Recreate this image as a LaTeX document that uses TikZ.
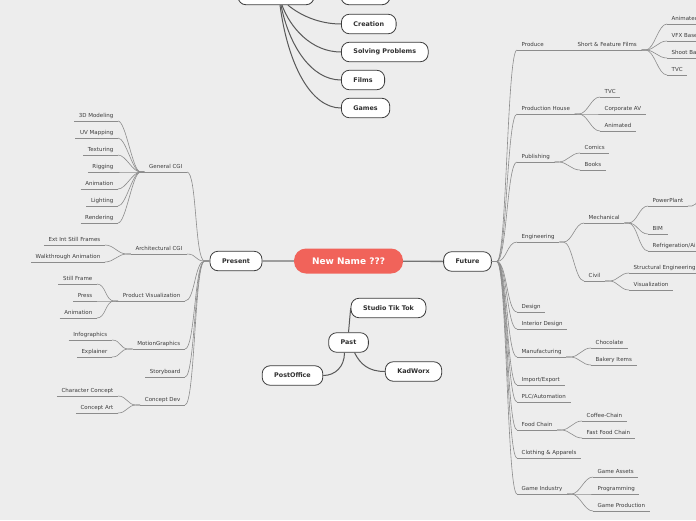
\documentclass[tikz,border=0pt]{standalone}
\usepackage{fontspec}
\setmainfont{DejaVu Sans}
\usetikzlibrary{positioning}
\definecolor{canvas}{RGB}{237,237,237}
\definecolor{coral}{RGB}{241,99,90}
\definecolor{rim}{RGB}{60,60,60}
\definecolor{twig}{RGB}{140,140,140}
\definecolor{ink}{RGB}{60,60,60}
\tikzset{
  leaf/.style={font=\fontsize{5.5}{6.5}\selectfont, text=ink, inner xsep=4.5pt, inner ysep=2pt,
    text height=4.1pt, text depth=1.1pt,
    append after command={(\tikzlastnode.south west) edge[twig] (\tikzlastnode.south east)}},
  main/.style={draw=rim, line width=0.8pt, fill=white, rounded corners=8pt, text=ink!80!black,
    font=\bfseries\fontsize{6.4}{7.4}\selectfont, minimum height=19.5pt, inner xsep=12pt},
  root/.style={fill=coral, rounded corners=12pt, text=white, font=\bfseries\fontsize{9}{10}\selectfont,
    minimum width=109pt, minimum height=25pt},
  twig/.style={draw=twig, line width=0.6pt},
  trunk/.style={draw=black!65, line width=1pt},
  fan/.style={to path={.. controls +(#1,0) and +(-#1,0) .. (\tikztotarget)}},
  fan/.default=9,
}
\begin{document}
\begin{tikzpicture}[x=1pt,y=-1pt]
\useasboundingbox (0,0) rectangle (696,520);
\fill[canvas] (0,0) rectangle (696,520);
\clip (0,0) rectangle (696,520);

\node[root] (root) at (348.5,261) {New Name ???};
\node[main] (present) at (236,261) {Present};
\node[main] (future) at (467.5,261.5) {Future};
\node[main] (past) at (348.5,342.5) {Past};
\node[main] (studio) at (388.5,308) {Studio Tik Tok};
\node[main] (post) at (292.5,375.5) {PostOffice};
\node[main] (kad) at (413.5,371.5) {KadWorx};
\draw[draw=black!55, line width=1.3pt] (present) -- (root) -- (future);
\draw[trunk] (past.north) -- (studio.west);
\draw[trunk] ([xshift=-4pt]past.south) .. controls +(0,14) and +(12,0) .. (post.east);
\draw[trunk] ([xshift=6pt]past.south) .. controls +(6,12) and +(-16,0) .. (kad.west);

% top branch
\node[main, minimum width=76pt] (topl) at (276,-5) {};
\node[main, minimum width=49pt] (topr) at (365.5,-5) {};
\node[main, anchor=west] (creation) at (341,24) {Creation};
\node[main, anchor=west] (solving) at (341,52) {Solving Problems};
\node[main, anchor=west] (films) at (341,80) {Films};
\node[main, anchor=west] (games) at (341,108) {Games};
\draw[trunk] ([xshift=12pt]topl.south) .. controls +(12,10) and +(-22,0) .. (creation.west);
\draw[trunk] ([xshift=6pt]topl.south) .. controls +(8,22) and +(-30,0) .. (solving.west);
\draw[trunk] ([xshift=5pt]topl.south) .. controls +(8,40) and +(-30,0) .. (films.west);
\draw[trunk] ([xshift=4pt]topl.south) .. controls +(8,60) and +(-30,0) .. (games.west);

% present side
\node[leaf, anchor=south east] (gencgi) at (187,172) {General CGI};
\node[leaf, anchor=south east] (model) at (118,121) {3D Modeling};
\node[leaf, anchor=south east] (uvmap) at (118,138) {UV Mapping};
\node[leaf, anchor=south east] (textr) at (118,155) {Texturing};
\node[leaf, anchor=south east] (rig) at (118,172) {Rigging};
\node[leaf, anchor=south east] (anim) at (118,189) {Animation};
\node[leaf, anchor=south east] (light) at (118,206) {Lighting};
\node[leaf, anchor=south east] (render) at (118,223) {Rendering};
\node[leaf, anchor=south east] (archcgi) at (187,254) {Architectural CGI};
\node[leaf, anchor=south east] (extint) at (105,245) {Ext Int Still Frames};
\node[leaf, anchor=south east] (walk) at (105,262) {Walkthrough Animation};
\node[leaf, anchor=south east] (prodvis) at (185,301) {Product Visualization};
\node[leaf, anchor=south east] (still) at (97,284) {Still Frame};
\node[leaf, anchor=south east] (press) at (97,301) {Press};
\node[leaf, anchor=south east] (panim) at (97,318) {Animation};
\node[leaf, anchor=south east] (motion) at (185,349) {MotionGraphics};
\node[leaf, anchor=south east] (infog) at (112,340) {Infographics};
\node[leaf, anchor=south east] (explain) at (112,357) {Explainer};
\node[leaf, anchor=south east] (story) at (185,377) {Storyboard};
\node[leaf, anchor=south east] (concept) at (185,405) {Concept Dev};
\node[leaf, anchor=south east] (charc) at (118,396) {Character Concept};
\node[leaf, anchor=south east] (cart) at (118,413) {Concept Art};

\foreach \c in {gencgi,archcgi,prodvis,motion,story,concept}
  \draw[twig] (\c.south east) to[fan=10] ([xshift=-5pt]present.west) -- (present.west);
\foreach \c in {model,uvmap,textr,rig,anim,light,render}
  \draw[twig] (\c.south east) to[fan=8] ([xshift=-4pt]gencgi.south west) -- (gencgi.south west);
\foreach \c in {extint,walk}
  \draw[twig] (\c.south east) to[fan] ([xshift=-4pt]archcgi.south west) -- (archcgi.south west);
\foreach \c in {still,press,panim}
  \draw[twig] (\c.south east) to[fan] ([xshift=-4pt]prodvis.south west) -- (prodvis.south west);
\foreach \c in {infog,explain}
  \draw[twig] (\c.south east) to[fan] ([xshift=-4pt]motion.south west) -- (motion.south west);
\foreach \c in {charc,cart}
  \draw[twig] (\c.south east) to[fan] ([xshift=-4pt]concept.south west) -- (concept.south west);

% future side
\node[leaf, anchor=south west] (produce) at (517,50) {Produce};
\node[leaf, anchor=south west] (sff) at (573,50) {Short \& Feature Films};
\node[leaf, anchor=south west] (animf) at (667,24) {Animated};
\node[leaf, anchor=south west] (vfx) at (667,41) {VFX Based};
\node[leaf, anchor=south west] (shoot) at (667,58) {Shoot Based};
\node[leaf, anchor=south west] (tvcf) at (667,75) {TVC};
\node[leaf, anchor=south west] (prodhouse) at (517,114) {Production House};
\node[leaf, anchor=south west] (tvc) at (600,97) {TVC};
\node[leaf, anchor=south west] (corpav) at (600,114) {Corporate AV};
\node[leaf, anchor=south west] (animd) at (600,131) {Animated};
\node[leaf, anchor=south west] (publish) at (517,162) {Publishing};
\node[leaf, anchor=south west] (comics) at (580,153) {Comics};
\node[leaf, anchor=south west] (books) at (580,170) {Books};
\node[leaf, anchor=south west] (engg) at (517,242) {Engineering};
\node[leaf, anchor=south west] (mech) at (584,223) {Mechanical};
\node[leaf, anchor=south west] (power) at (648,206) {PowerPlant};
\node[leaf, anchor=south west] (bim) at (648,234) {BIM};
\node[leaf, anchor=south west] (refrig) at (648,251) {Refrigeration/Air Conditioning};
\node[leaf, anchor=south west] (civil) at (584,281) {Civil};
\node[leaf, anchor=south west] (struct) at (629,273) {Structural Engineering};
\node[leaf, anchor=south west] (visual) at (629,290) {Visualization};
\node[leaf, anchor=south west] (design) at (517,312) {Design};
\node[leaf, anchor=south west] (interior) at (517,329) {Interior Design};
\node[leaf, anchor=south west] (manuf) at (517,357) {Manufacturing};
\node[leaf, anchor=south west] (choc) at (591,348) {Chocolate};
\node[leaf, anchor=south west] (bakery) at (591,365) {Bakery Items};
\node[leaf, anchor=south west] (impexp) at (517,385) {Import/Export};
\node[leaf, anchor=south west] (plc) at (517,402) {PLC/Automation};
\node[leaf, anchor=south west] (food) at (517,430) {Food Chain};
\node[leaf, anchor=south west] (coffee) at (582,421) {Coffee-Chain};
\node[leaf, anchor=south west] (fastfood) at (582,438) {Fast Food Chain};
\node[leaf, anchor=south west] (cloth) at (517,458) {Clothing \& Apparels};
\node[leaf, anchor=south west] (gameind) at (517,494) {Game Industry};
\node[leaf, anchor=south west] (gassets) at (593,477) {Game Assets};
\node[leaf, anchor=south west] (gprog) at (593,494) {Programming};
\node[leaf, anchor=south west] (gprod) at (593,511) {Game Production};
\coordinate (ppx) at (704,194);

\foreach \c in {produce,prodhouse,publish,engg,design,interior,manuf,impexp,plc,food,cloth,gameind}
  \draw[twig] (future.east) -- ++(5,0) to[fan=10] (\c.south west);
\draw[twig] (produce.south east) -- (sff.south west);
\foreach \c in {animf,vfx,shoot,tvcf}
  \draw[twig] (sff.south east) -- ++(4,0) to[fan] (\c.south west);
\foreach \c in {tvc,corpav,animd}
  \draw[twig] (prodhouse.south east) -- ++(4,0) to[fan] (\c.south west);
\foreach \c in {comics,books}
  \draw[twig] (publish.south east) -- ++(4,0) to[fan] (\c.south west);
\foreach \c in {mech,civil}
  \draw[twig] (engg.south east) -- ++(4,0) to[fan] (\c.south west);
\foreach \c in {power,bim,refrig}
  \draw[twig] (mech.south east) -- ++(4,0) to[fan] (\c.south west);
\foreach \c in {struct,visual}
  \draw[twig] (civil.south east) -- ++(4,0) to[fan] (\c.south west);
\foreach \c in {choc,bakery}
  \draw[twig] (manuf.south east) -- ++(4,0) to[fan] (\c.south west);
\foreach \c in {coffee,fastfood}
  \draw[twig] (food.south east) -- ++(4,0) to[fan] (\c.south west);
\foreach \c in {gassets,gprog,gprod}
  \draw[twig] (gameind.south east) -- ++(4,0) to[fan] (\c.south west);
\draw[twig] (power.south east) -- ++(4,0) to[fan=6] (ppx);
\end{tikzpicture}
\end{document}
